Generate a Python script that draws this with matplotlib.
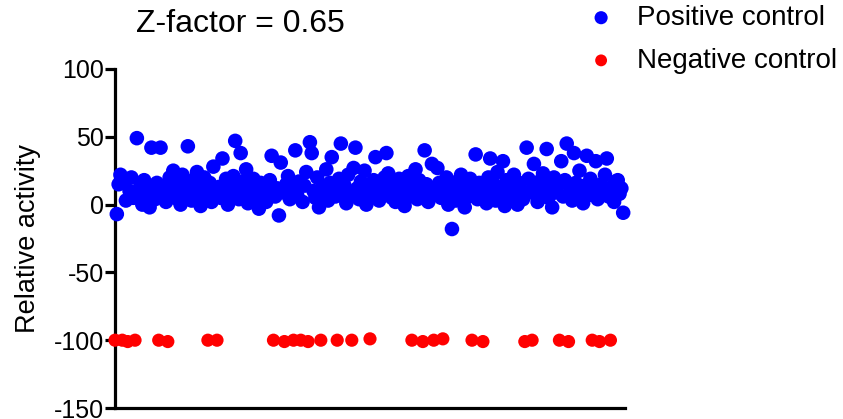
import matplotlib
matplotlib.use("Agg")
import matplotlib.pyplot as plt

plt.rcParams['font.family'] = ['Liberation Sans', 'DejaVu Sans']
plt.rcParams['axes.unicode_minus'] = False

# well numbers of the negative control wells
red_wells = [1, 5, 8, 12, 25, 30, 52, 57, 88, 94, 99, 103, 107, 114, 123,
             131, 141, 164, 170, 176, 181, 197, 203, 226, 230, 245, 250, 263, 267, 273]
red_activity = [-100, -100, -101, -100, -100, -101, -100, -100, -100, -101,
                -100, -100, -101, -100, -100, -100, -99, -100, -101, -100,
                -99, -100, -101, -101, -100, -100, -101, -100, -101, -100]

# positive control values, in well order (all wells 2..280 that are not negative control)
blue_activity = [
    -7, 15, 22, 18, 3, 10, 20, 5,
    49, 8, 14, 0, 18, 6, 12, -2, 42, 10, 4, 16, 42, 7, 13, 2,
    20, 9, 25, 5, 15, 11, 0, 22, 8, 17, 43, 12, 3, 18, 6, 24, 10, -1, 14, 20, 7,
    16, 2, 28, 9,
    13, 5, 34, 11, 19, 0, 15, 8, 21, 47, 12, 4, 38, 17, 9, 26, 1, 14, 7, 19, 3, 11, -3, 16, 8, 13, 2, 10, 18, 36,
    6, 12, -8, 31, 9,
    15, 21, 4, 11,
    40, 7, 17,
    2, 14, 24,
    46, 38, 10, 5, 20, -2,
    13, 8, 26, 3, 16, 35, 11, 6,
    19, 45, 9, 14, 1, 22, 7,
    27, 42, 12, 4, 17, 9, 25, 0, 13,
    6, 18, 35, 10, 3, 15, 8, 20, 38, 23, 11, 5, 16, 2, 12, 19, 7, 14, -1, 10, 21, 6,
    13, 26, 4, 18, 9,
    40, 15, 2, 11, 30,
    8, 27, 16, 5,
    12, 20, 0, 9, -18, 14, 3, 17, 7, 22, 10, -2, 15, 6, 19,
    11, 37, 4, 16, 8,
    13, 1, 20, 34, 9, 15, 3, 24, 7, 12, 32, -1, 18, 10, 5, 14, 22, 8, 0, 16, 11, 4,
    42, 19, 9,
    30, 13, 2, 17, 7, 23, 11, 41, 5, 15, -2, 20, 9, 14,
    32, 6, 18, 45,
    12, 3, 38, 16, 8, 25, 10, 1, 14, 36, 7, 19,
    11, 32, 4,
    15, 9, 22, 34, 6,
    13, 2, 17, 18, 8, 12, -6,
]
blue_wells = [w for w in range(2, 281) if w not in red_wells]
n = min(len(blue_wells), len(blue_activity))
blue_wells = blue_wells[:n]
blue_activity = blue_activity[:n]

y_ticks = [-150, -100, -50, 0, 50, 100]

fig = plt.figure(figsize=(8.43, 4.19), dpi=100)
ax = fig.add_axes([115 / 843, 11 / 419, 510 / 843, 339 / 419])

ax.scatter(blue_wells, blue_activity, s=110, color='#0000ff', edgecolors='none',
           label='Positive control', clip_on=False, zorder=3)
ax.scatter(red_wells, red_activity, s=90, color='#ff0000', edgecolors='none',
           label='Negative control', clip_on=False, zorder=3)

ax.set_xlim(1, 281)
ax.set_ylim(-150, 100)
ax.set_yticks(y_ticks)
ax.set_xticks([])
ax.spines['top'].set_visible(False)
ax.spines['right'].set_visible(False)
ax.spines['left'].set_linewidth(2.3)
ax.spines['bottom'].set_linewidth(2.3)
ax.tick_params(axis='y', direction='out', length=7, width=2.3, labelsize=18, pad=1)
ax.set_ylabel('Relative activity', fontsize=19.5, labelpad=9)

fig.text(240 / 843, 1 - 24 / 419, 'Z-factor = 0.65', fontsize=23, ha='center', va='center')

fig.legend(loc='upper left', bbox_to_anchor=(590 / 843, 1 - 5 / 419), frameon=False,
           fontsize=20, handlelength=0.8, handletextpad=0.9, labelspacing=0.6,
           borderpad=0, borderaxespad=0, markerscale=0.9)

fig.savefig('out.png', dpi=100)
